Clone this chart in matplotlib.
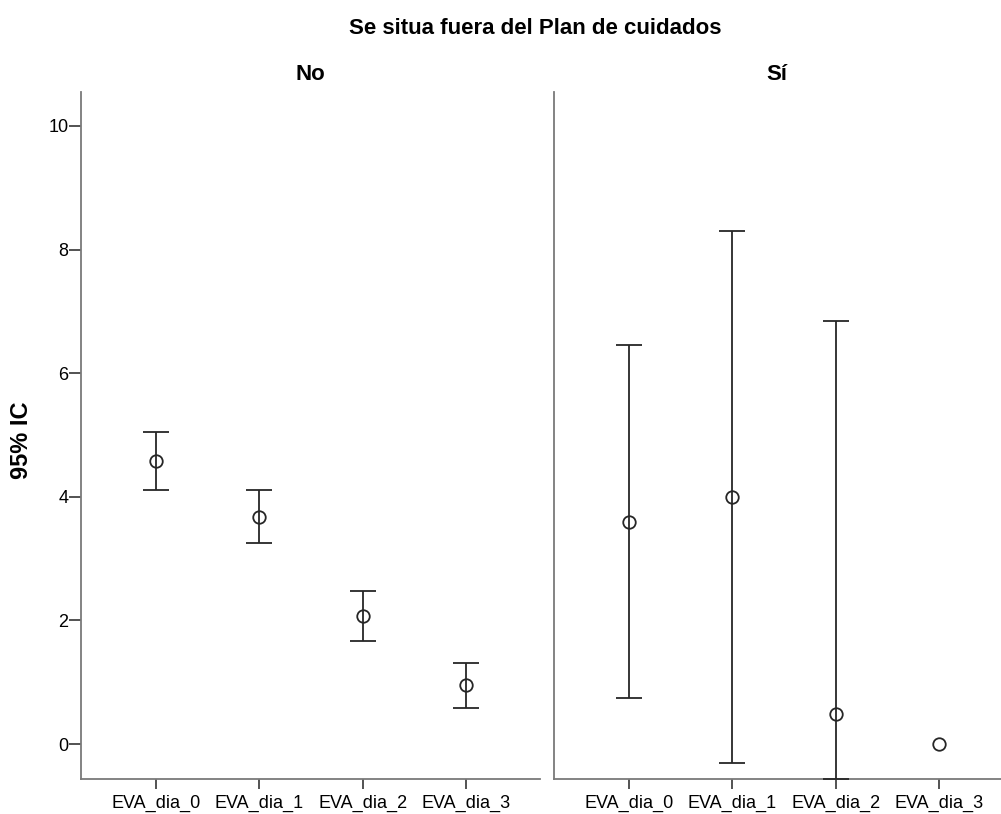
import matplotlib.pyplot as plt

plt.rcParams['font.family'] = ['Liberation Sans', 'DejaVu Sans']

categorias = ['EVA_dia_0', 'EVA_dia_1', 'EVA_dia_2', 'EVA_dia_3']
paneles = ['No', 'Sí']

# medias e intervalos de confianza al 95%
media_no = [4.58, 3.67, 2.07, 0.95]
inf_no = [4.11, 3.25, 1.67, 0.58]
sup_no = [5.05, 4.11, 2.48, 1.31]

media_si = [3.60, 4.00, 0.49, 0.0]
inf_si = [0.74, -0.30, -0.57, 0.0]
sup_si = [6.45, 8.30, 6.85, 0.0]

datos = [(media_no, inf_no, sup_no), (media_si, inf_si, sup_si)]

W, H = 1001, 814
fig = plt.figure(figsize=(W / 100, H / 100), dpi=100)
ax_no = fig.add_axes([81 / W, 1 - 779 / H, 459 / W, 687 / H])
ax_si = fig.add_axes([554 / W, 1 - 779 / H, 459 / W, 687 / H])

eje = '#7a7a7a'
for i, (ax, (media, inf, sup)) in enumerate(zip([ax_no, ax_si], datos)):
    x = list(range(len(categorias)))
    for xi, m, lo, hi in zip(x, media, inf, sup):
        if hi > lo:
            ax.errorbar(xi, m, yerr=[[m - lo], [hi - m]], fmt='none',
                        ecolor='#262626', elinewidth=1.3, capsize=9.5,
                        capthick=1.3, zorder=4, clip_on=False)
    ax.plot(x, media, 'o', ms=9, mfc='none', mec='#262626', mew=1.3,
            linestyle='none', zorder=5)
    ax.set_xlim(-0.725, 3.715)
    ax.set_ylim(-0.566, 10.55)
    ax.set_xticks(x)
    ax.set_xticklabels(categorias, fontsize=13)
    ax.tick_params(axis='x', length=7, width=1.3, color='#444444', pad=4.5)
    for s in ['top', 'right']:
        ax.spines[s].set_visible(False)
    for s in ['left', 'bottom']:
        ax.spines[s].set_color(eje)
        ax.spines[s].set_linewidth(1.3)
    if i == 0:
        ax.set_yticks([0, 2, 4, 6, 8, 10])
        ax.tick_params(axis='y', length=8.5, width=1.3, color='#444444',
                       labelsize=13, pad=0.5)
    else:
        ax.set_yticks([])

fig.text(21 / W, 1 - 440 / H, '95% IC', rotation=90, ha='center', va='center',
         fontsize=17, fontweight='bold')
fig.text(535 / W, 1 - 34 / H, 'Se situa fuera del Plan de cuidados',
         ha='center', va='baseline', fontsize=16, fontweight='bold')
fig.text(310 / W, 1 - 80 / H, paneles[0], ha='center', va='baseline',
         fontsize=16, fontweight='bold')
fig.text(777 / W, 1 - 80 / H, paneles[1], ha='center', va='baseline',
         fontsize=16, fontweight='bold')

fig.savefig('out.png', dpi=100)
